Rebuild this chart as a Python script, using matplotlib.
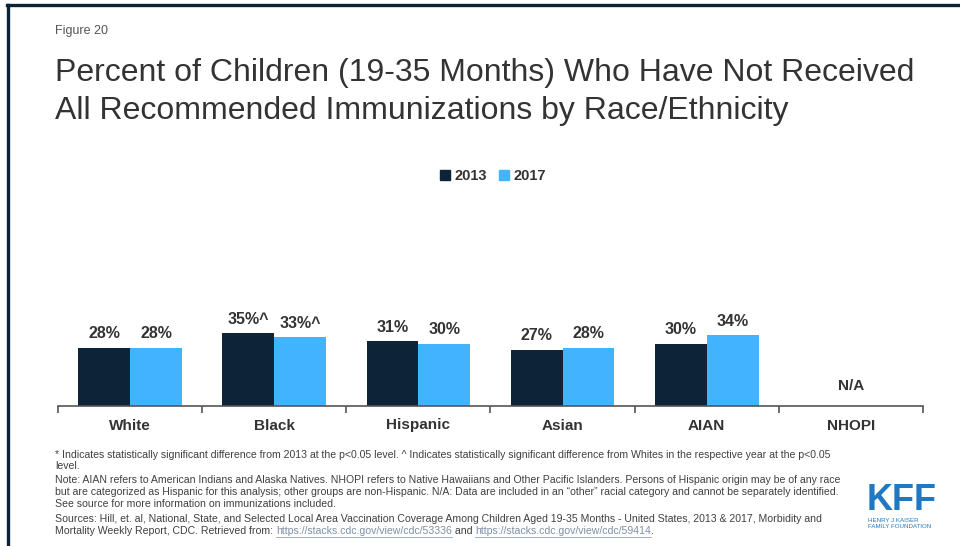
import matplotlib
matplotlib.use('Agg')
import matplotlib.pyplot as plt
from matplotlib.lines import Line2D
from matplotlib.patches import Patch
import numpy as np

plt.rcParams['font.family'] = ['Liberation Sans', 'DejaVu Sans']

# data
groups = ['White', 'Black', 'Hispanic', 'Asian', 'AIAN', 'NHOPI']
vals_2013 = [28, 35, 31, 27, 30, None]
vals_2017 = [28, 33, 30, 28, 34, None]
labels_2013 = ['28%', '35%^', '31%', '27%', '30%', None]
labels_2017 = ['28%', '33%^', '30%', '28%', '34%', None]
missing_label = 'N/A'

dark = '#0c2338'
light = '#42b3fe'
text_col = '#333333'
note_col = '#404040'
frame_col = '#0b2239'

W, H = 960, 546
fig = plt.figure(figsize=(W / 100, H / 100), dpi=100)

def fx(px):
    return px / W

def fy(py):
    return 1 - py / H

# slide frame (top and left edges)
fig.add_artist(Line2D([fx(7), fx(960)], [fy(5), fy(5)], color=frame_col, lw=2.4))
fig.add_artist(Line2D([fx(8), fx(8)], [fy(5), fy(546)], color=frame_col, lw=2.4))

fig.text(fx(55), fy(31), 'Figure 20', fontsize=9, color='#555555', va='center')
fig.text(fx(55), fy(73), 'Percent of Children (19-35 Months) Who Have Not Received',
         fontsize=23, color=text_col, va='center')
fig.text(fx(55), fy(111), 'All Recommended Immunizations by Race/Ethnicity',
         fontsize=23, color=text_col, va='center')

# chart area
ax = fig.add_axes([fx(58), fy(406), fx(923) - fx(58), fy(281) - fy(406)])
x = np.arange(len(groups))
bw = 0.36
for i in range(len(groups)):
    if vals_2013[i] is None:
        ax.annotate(missing_label, (x[i], 0), xytext=(0, 9), textcoords='offset points',
                    ha='center', va='bottom', fontsize=11, fontweight='bold', color=text_col)
        continue
    ax.bar(x[i] - bw / 2, vals_2013[i], bw, color=dark, edgecolor='none')
    ax.bar(x[i] + bw / 2, vals_2017[i], bw, color=light, edgecolor='none')
    ax.annotate(labels_2013[i], (x[i] - bw / 2, vals_2013[i]), xytext=(0, 4.5),
                textcoords='offset points', ha='center', va='bottom',
                fontsize=11.5, fontweight='bold', color=text_col, annotation_clip=False)
    ax.annotate(labels_2017[i], (x[i] + bw / 2, vals_2017[i]), xytext=(0, 4.5),
                textcoords='offset points', ha='center', va='bottom',
                fontsize=11.5, fontweight='bold', color=text_col, annotation_clip=False)

ax.set_xlim(-0.5, len(groups) - 0.5)
ax.set_ylim(0, 60)
ax.set_yticks([])
for s in ['top', 'right', 'left']:
    ax.spines[s].set_visible(False)
ax.spines['bottom'].set_color('#555555')
ax.spines['bottom'].set_linewidth(1.2)
ax.set_xticks(x)
ax.set_xticklabels(groups, fontsize=11, fontweight='bold', color=text_col)
ax.tick_params(axis='x', which='major', length=0, pad=9)
ax.set_xticks(np.arange(len(groups) + 1) - 0.5, minor=True)
ax.tick_params(axis='x', which='minor', length=5, width=1.2, color='#555555')

handles = [Patch(color=dark, label='2013'), Patch(color=light, label='2017')]
fig.legend(handles=handles, loc='center', bbox_to_anchor=(fx(493), fy(176)), ncol=2,
           frameon=False, handlelength=0.7, handleheight=0.7, handletextpad=0.3,
           columnspacing=0.8, prop={'size': 10.5, 'weight': 'bold'}, labelcolor=text_col)

# footnotes
notes = [
    '* Indicates statistically significant difference from 2013 at the p<0.05 level. ^ Indicates statistically significant difference from Whites in the respective year at the p<0.05',
    'level.',
    'Note: AIAN refers to American Indians and Alaska Natives. NHOPI refers to Native Hawaiians and Other Pacific Islanders. Persons of Hispanic origin may be of any race',
    'but are categorized as Hispanic for this analysis; other groups are non-Hispanic. N/A: Data are included in an \u201cother\u201d racial category and cannot be separately identified.',
    'See source for more information on immunizations included.',
    'Sources: Hill, et. al, National, State, and Selected Local Area Vaccination Coverage Among Children Aged 19-35 Months - United States, 2013 & 2017, Morbidity and',
]
note_y = [455, 466, 480, 492, 504, 519]
note_font = dict(fontsize=7.6, color=note_col, va='center')
for t, yy in zip(notes, note_y):
    fig.text(fx(55), fy(yy), t, **note_font)

# last source line with underlined links
pieces = [('Mortality Weekly Report, CDC. Retrieved from: ', False),
          ('https://stacks.cdc.gov/view/cdc/53336', True),
          (' and ', False),
          ('https://stacks.cdc.gov/view/cdc/59414', True),
          ('.', False)]
fig.canvas.draw()
renderer = fig.canvas.get_renderer()
cur = 55
for txt, link in pieces:
    kw = dict(note_font)
    if link:
        kw['color'] = '#7f8fa6'
    t = fig.text(fx(cur), fy(531), txt, **kw)
    bb = t.get_window_extent(renderer)
    if link:
        fig.add_artist(Line2D([fx(cur), fx(cur + bb.width)], [fy(536.5), fy(536.5)],
                              color='#7f8fa6', lw=0.5))
    cur += bb.width

# logo
fig.text(fx(867), fy(500), 'KFF', fontsize=26, fontweight='bold', color='#1f78c1',
         va='center', ha='left', family=['Liberation Sans Narrow', 'Liberation Sans'])
fig.text(fx(868), fy(520), 'HENRY J KAISER', fontsize=4.4, color='#1f78c1', va='center')
fig.text(fx(868), fy(527), 'FAMILY FOUNDATION', fontsize=4.4, color='#1f78c1', va='center')

fig.savefig('out.png', dpi=100)
